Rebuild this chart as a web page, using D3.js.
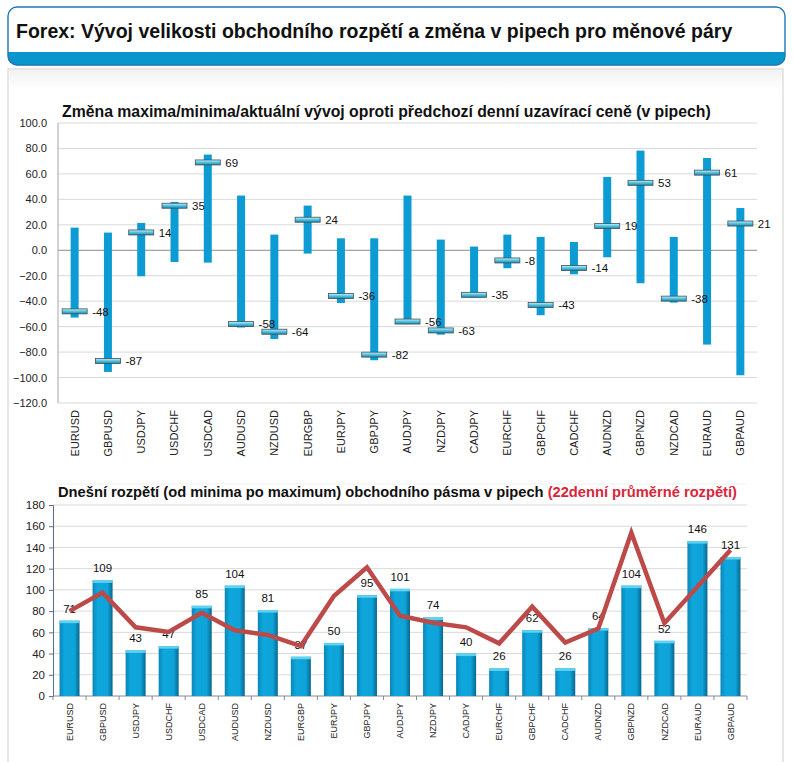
<!DOCTYPE html>
<html><head><meta charset="utf-8">
<script src="https://cdn.jsdelivr.net/npm/d3@7"></script>
<style>
html,body{margin:0;padding:0;background:#fff;}
svg{display:block;font-family:"Liberation Sans",Arial,sans-serif;}
</style></head>
<body>
<svg id="c" width="793" height="762"></svg>
<script>
const pairs = ["EURUSD","GBPUSD","USDJPY","USDCHF","USDCAD","AUDUSD","NZDUSD","EURGBP","EURJPY","GBPJPY","AUDJPY","NZDJPY","CADJPY","EURCHF","GBPCHF","CADCHF","AUDNZD","GBPNZD","NZDCAD","EURAUD","GBPAUD"];
const highs = [17.8,13.9,21.5,38,75.2,43,12.3,35.1,9.4,9.4,43,8.4,2.9,12.3,10.5,6.5,57.6,78.3,10.5,72.5,33.2];
const lows  = [-52.9,-95.6,-20.4,-9.2,-9.7,-60.7,-69.7,-2.6,-41.4,-86.4,-58,-66.3,-37.2,-14.1,-51,-18.9,-5.5,-25.9,-41.1,-74.1,-98.2];
const closes = [-48,-87,14,35,69,-58,-64,24,-36,-82,-56,-63,-35,-8,-43,-14,19,53,-38,61,21];
const ranges = [71,109,43,47,85,104,81,37,50,95,101,74,40,26,62,26,64,104,52,146,131];
const avg22 = [80,97.4,64.7,60.3,78.5,61.9,57.5,47.1,94.2,121.3,75.7,69.1,64.7,49.6,84.2,50.3,63.5,153.9,68.5,103,137.6];
const topTicks = [-120,-100,-80,-60,-40,-20,0,20,40,60,80,100];
const botTicks = [0,20,40,60,80,100,120,140,160,180];

const mainTitle = "Forex: Vývoj velikosti obchodního rozpětí a změna v pipech pro měnové páry";
const topTitle = "Změna maxima/minima/aktuální vývoj oproti předchozí denní uzavírací ceně (v pipech)";
const botTitleA = "Dnešní rozpětí (od minima po maximum) obchodního pásma v pipech ";
const botTitleB = "(22denní průměrné rozpětí)";

const svg = d3.select("#c");
const defs = svg.append("defs");

const capG = defs.append("linearGradient").attr("id","capG").attr("x1",0).attr("y1",0).attr("x2",0).attr("y2",1);
capG.append("stop").attr("offset","0%").attr("stop-color","#c8f2fb");
capG.append("stop").attr("offset","45%").attr("stop-color","#5cc6e4");
capG.append("stop").attr("offset","100%").attr("stop-color","#1a88b0");
const barG = defs.append("linearGradient").attr("id","barG").attr("x1",0).attr("y1",0).attr("x2",1).attr("y2",0);
barG.append("stop").attr("offset","0%").attr("stop-color","#0a86b8");
barG.append("stop").attr("offset","25%").attr("stop-color","#0ea6dc");
barG.append("stop").attr("offset","75%").attr("stop-color","#0ea3d9");
barG.append("stop").attr("offset","100%").attr("stop-color","#07678f");
const panelG = defs.append("linearGradient").attr("id","panelG").attr("x1",0).attr("y1",0).attr("x2",0).attr("y2",1);
panelG.append("stop").attr("offset","0%").attr("stop-color","#f2f2f2");
panelG.append("stop").attr("offset","100%").attr("stop-color","#ffffff");

// header
svg.append("rect").attr("x",9).attr("y",9).attr("width",776).attr("height",57).attr("rx",9).attr("fill","#c9c9c9").attr("opacity",0.5);
const clip = defs.append("clipPath").attr("id","hclip");
clip.append("rect").attr("x",8).attr("y",7).attr("width",777).attr("height",58).attr("rx",9);
svg.append("rect").attr("x",8).attr("y",7).attr("width",777).attr("height",58).attr("rx",9).attr("fill","#fff");
svg.append("rect").attr("x",8).attr("y",52).attr("width",777).attr("height",14).attr("fill","#0a96cc").attr("clip-path","url(#hclip)");
svg.append("rect").attr("x",8).attr("y",7).attr("width",777).attr("height",58).attr("rx",9).attr("fill","none").attr("stroke","#1f78b4").attr("stroke-width",1.4);
svg.append("text").attr("x",16).attr("y",38).attr("font-size",19.5).attr("font-weight","bold").attr("fill","#111")
  .text(mainTitle);

// panel
svg.append("rect").attr("x",8).attr("y",69).attr("width",775).attr("height",710).attr("fill","#fff").attr("stroke","#cfcfcf");
svg.append("rect").attr("x",9).attr("y",70).attr("width",773).attr("height",20).attr("fill","url(#panelG)");

// ---------- top chart ----------
const tx = d3.scaleBand().domain(pairs).range([58,757]);
const ty = d3.scaleLinear().domain([-120,100]).range([403,123]);
const topG = svg.append("g");
topG.append("text").attr("x",62).attr("y",117).attr("font-size",15.8).attr("font-weight","bold").attr("fill","#111").text(topTitle);

topG.append("g").selectAll("line").data(topTicks).join("line")
  .attr("x1",58).attr("x2",757).attr("y1",d=>ty(d)).attr("y2",d=>ty(d))
  .attr("stroke",d=>d===0?"#8a8a8a":"#d9d9d9").attr("stroke-width",1);
topG.append("line").attr("x1",58).attr("x2",58).attr("y1",123).attr("y2",403).attr("stroke","#a6a6a6");

const tyAxis = d3.axisLeft(ty).tickValues(topTicks).tickFormat(d3.format(".1f")).tickSize(0).tickPadding(11);
const tyg = topG.append("g").attr("transform","translate(58,0)").call(tyAxis);
tyg.select(".domain").remove();
tyg.selectAll("text").attr("font-size",11).attr("fill","#222").attr("font-family","'Liberation Sans',Arial,sans-serif");

const txAxis = d3.axisBottom(tx).tickSize(0).tickPadding(0);
const txg = topG.append("g").attr("transform","translate(0,406)").call(txAxis);
txg.select(".domain").remove();
txg.selectAll("text").attr("font-size",11).attr("fill","#222").attr("font-family","'Liberation Sans',Arial,sans-serif")
  .attr("transform","rotate(-90)").attr("text-anchor","end").attr("dy","0.35em").attr("x",-4).attr("y",0);

const bw = 8;
topG.append("g").selectAll("rect").data(pairs).join("rect")
  .attr("x",(d)=>tx(d)+tx.bandwidth()/2-bw/2).attr("width",bw)
  .attr("y",(d,i)=>ty(highs[i])).attr("height",(d,i)=>ty(lows[i])-ty(highs[i]))
  .attr("fill","#0d9bd3");
const capW = 25, capH = 5;
topG.append("g").selectAll("rect").data(pairs).join("rect")
  .attr("x",d=>tx(d)+tx.bandwidth()/2-capW/2).attr("width",capW)
  .attr("y",(d,i)=>ty(closes[i])-capH/2).attr("height",capH)
  .attr("fill","url(#capG)").attr("stroke","#3f5256").attr("stroke-width",0.8);
topG.append("g").selectAll("text").data(pairs).join("text")
  .attr("x",d=>tx(d)+tx.bandwidth()/2+capW/2+5)
  .attr("y",(d,i)=>ty(closes[i])).attr("dy","0.38em")
  .attr("font-size",11.5).attr("fill","#111").text((d,i)=>closes[i]);

// ---------- bottom chart ----------
const bxc = d3.scaleBand().domain(pairs).range([53,747]);
const by = d3.scaleLinear().domain([0,180]).range([696,505]);
const bot = svg.append("g");
const bt = bot.append("text").attr("x",58).attr("y",497).attr("font-size",14.7).attr("font-weight","bold");
bt.append("tspan").attr("fill","#111").text(botTitleA);
bt.append("tspan").attr("fill","#d9263b").text(botTitleB);

bot.append("g").selectAll("line").data(botTicks.filter(d=>d>0)).join("line")
  .attr("x1",53).attr("x2",747).attr("y1",d=>by(d)).attr("y2",d=>by(d))
  .attr("stroke","#d9d9d9");
bot.append("line").attr("x1",58).attr("x2",747).attr("y1",484).attr("y2",484).attr("stroke","#eeeeee");

const byAxis = d3.axisLeft(by).tickValues(botTicks).tickSize(4).tickPadding(4);
const byg = bot.append("g").attr("transform","translate(53,0)").call(byAxis);
byg.select(".domain").attr("stroke","#5a6f86");
byg.selectAll(".tick line").attr("stroke","#5a6f86");
byg.selectAll("text").attr("font-size",11.5).attr("fill","#222").attr("font-family","'Liberation Sans',Arial,sans-serif");

bot.append("line").attr("x1",53).attr("x2",747).attr("y1",696).attr("y2",696).attr("stroke","#7f8c99");
bot.append("g").selectAll("line").data(pairs.concat(["_end"])).join("line")
  .attr("x1",(d,i)=>53+i*bxc.step()).attr("x2",(d,i)=>53+i*bxc.step())
  .attr("y1",696).attr("y2",700).attr("stroke","#7f8c99");

const bars = bot.append("g");
bars.selectAll("rect.b").data(pairs).join("rect").attr("class","b")
  .attr("x",d=>bxc(d)+bxc.bandwidth()/2-10).attr("width",20)
  .attr("y",(d,i)=>by(ranges[i])).attr("height",(d,i)=>696-by(ranges[i]))
  .attr("fill","url(#barG)");
bars.selectAll("rect.h").data(pairs).join("rect").attr("class","h")
  .attr("x",d=>bxc(d)+bxc.bandwidth()/2-10).attr("width",20)
  .attr("y",(d,i)=>by(ranges[i])).attr("height",2.5)
  .attr("fill","#5fd2f0");
bars.selectAll("text").data(pairs).join("text")
  .attr("x",d=>bxc(d)+bxc.bandwidth()/2).attr("y",(d,i)=>by(ranges[i])-8)
  .attr("text-anchor","middle").attr("font-size",11.5).attr("fill","#111").text((d,i)=>ranges[i]);

const line = d3.line().x((d,i)=>bxc(pairs[i])+bxc.bandwidth()/2).y(d=>by(d));
bot.append("path").datum(avg22).attr("d",line).attr("fill","none")
  .attr("stroke","#bc4a48").attr("stroke-width",4.5).attr("stroke-linejoin","miter");

const bxAxis = d3.axisBottom(bxc).tickSize(0);
const bxg = bot.append("g").attr("transform","translate(0,700)").call(bxAxis);
bxg.select(".domain").remove();
bxg.selectAll("text").attr("font-size",9).attr("fill","#222").attr("font-family","'Liberation Sans',Arial,sans-serif")
  .attr("transform","rotate(-90)").attr("text-anchor","end").attr("dy","0.35em").attr("x",-3).attr("y",0);
</script>
</body></html>
